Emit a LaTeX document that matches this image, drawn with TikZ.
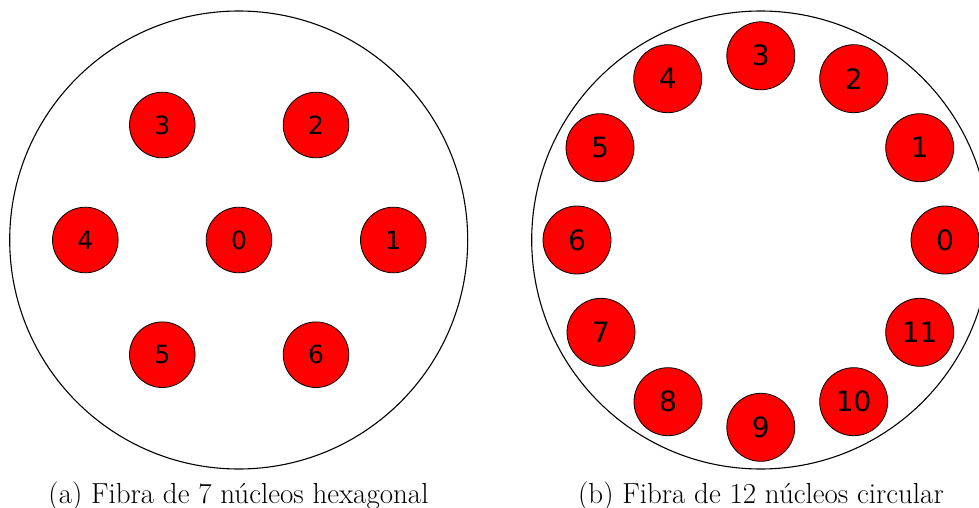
\documentclass[tikz,border=0pt]{standalone}
\usepackage{fontspec}
\newfontfamily\corefont{DejaVu Sans}
\begin{document}
\begin{tikzpicture}[x=1pt,y=-1pt,
  fiber/.style={draw=black,line width=1.1pt,circle,inner sep=0pt},
  coreL/.style={draw=black,line width=0.8pt,fill=red,circle,inner sep=0pt,minimum size=65.6pt,font=\corefont\fontsize{25}{25}\selectfont},
  coreR/.style={draw=black,line width=0.8pt,fill=red,circle,inner sep=0pt,minimum size=68pt,font=\corefont\fontsize{28}{28}\selectfont},
  captext/.style={anchor=base,inner sep=0pt,font=\fontsize{29}{29}\selectfont}]
\useasboundingbox (0,0) rectangle (979,508);
\clip (0,0) rectangle (979,508);
% (a)
\node[fiber,minimum size=458pt] (fa) at (238.7,240) {};
\node[coreL] (a0) at (239,240) {0};
\node[coreL] (a1) at (393.3,240) {1};
\node[coreL] (a2) at (316,125) {2};
\node[coreL] (a3) at (162.3,125) {3};
\node[coreL] (a4) at (85.3,240) {4};
\node[coreL] (a5) at (162.3,354.7) {5};
\node[coreL] (a6) at (316,354.7) {6};
\node[captext] (ca) at (238.5,503) {(a) Fibra de 7 núcleos hexagonal};
% (b)
\node[fiber,minimum size=458pt] (fb) at (760.7,240) {};
\node[coreR] (b0) at (945,240) {0};
\node[coreR] (b1) at (919.7,147.7) {1};
\node[coreR] (b2) at (853.7,78.7) {2};
\node[coreR] (b3) at (760.8,55.8) {3};
\node[coreR] (b4) at (667.7,78.7) {4};
\node[coreR] (b5) at (600,147.7) {5};
\node[coreR] (b6) at (577,240) {6};
\node[coreR] (b7) at (601,332.3) {7};
\node[coreR] (b8) at (668,401.7) {8};
\node[coreR] (b9) at (760.8,427.3) {9};
\node[coreR] (b10) at (853.7,401.7) {10};
\node[coreR] (b11) at (919.7,332.3) {11};
\node[captext] (cb) at (761,503) {(b) Fibra de 12 núcleos circular};
\end{tikzpicture}
\end{document}
